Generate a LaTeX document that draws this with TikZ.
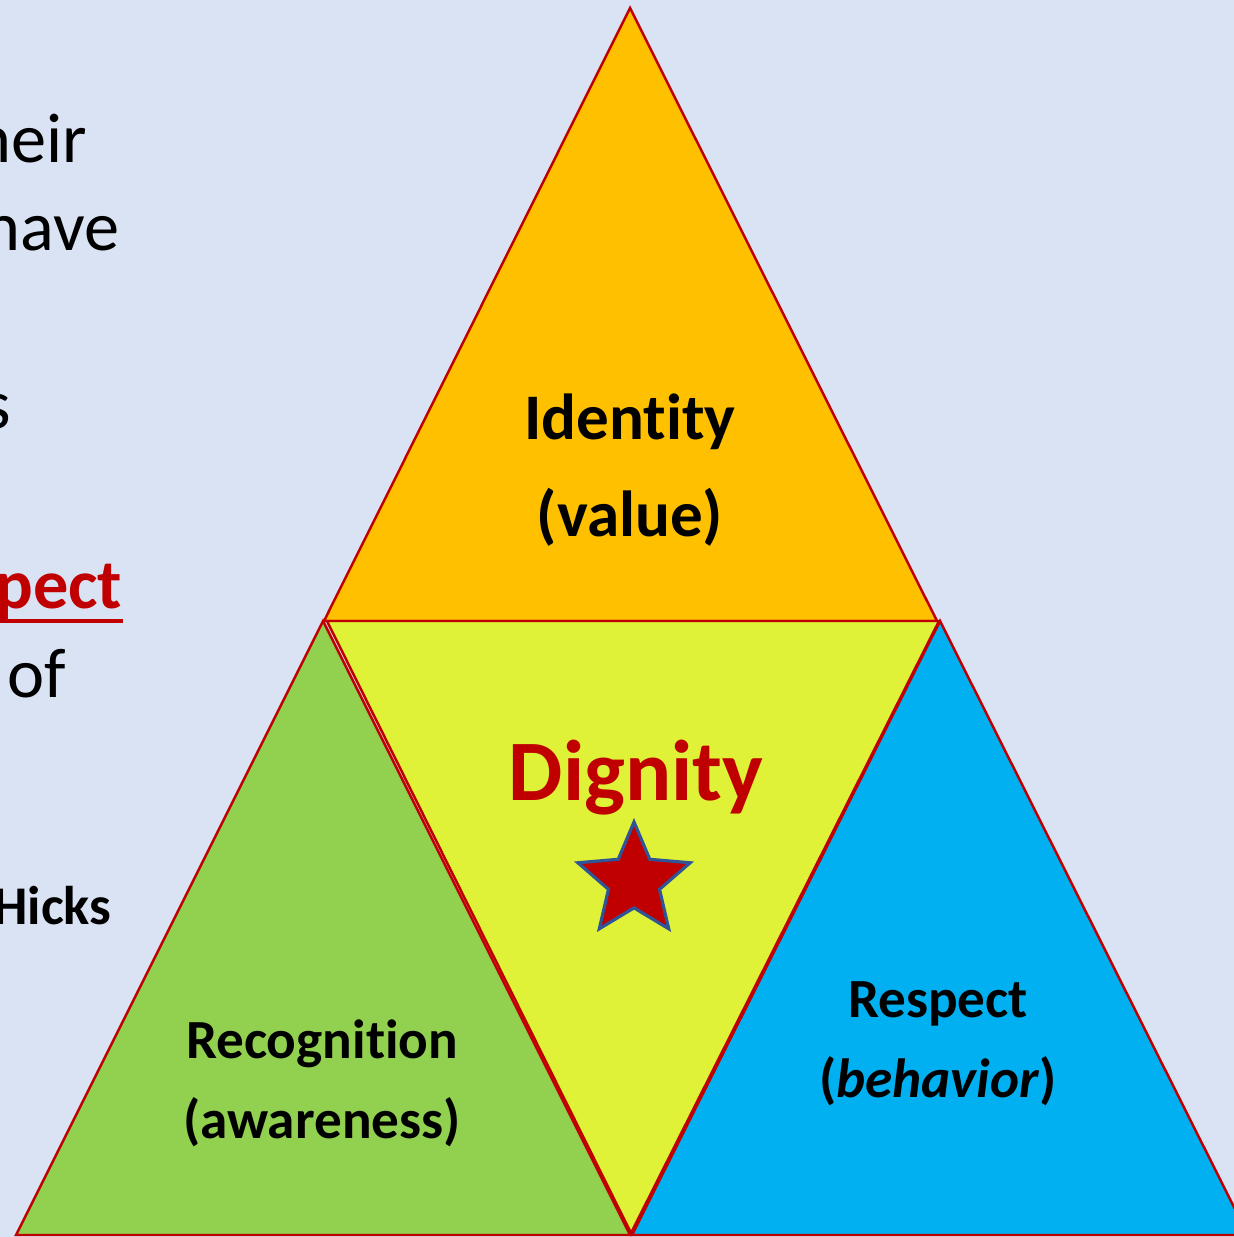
\documentclass[tikz,border=0pt]{standalone}
\usepackage{fontspec}
\setmainfont{Carlito}[Ligatures=NoCommon]
\usetikzlibrary{shapes.geometric}
\definecolor{slidebg}{HTML}{DAE3F3}
\definecolor{idorange}{HTML}{FFC000}
\definecolor{recgreen}{HTML}{92D050}
\definecolor{respblue}{HTML}{00B0F0}
\definecolor{dignyellow}{HTML}{DFF238}
\definecolor{darkred}{HTML}{C00000}
\definecolor{starblue}{HTML}{2F5597}
\tikzset{
  tri/.style={draw=darkred, line width=0.7pt, line join=miter},
  lbl/.style={anchor=base, font=\bfseries\fontsize{15.7}{19}\selectfont},
  slidetxt/.style={anchor=base east, inner sep=0pt, font=\fontsize{20}{24}\selectfont},
}
\begin{document}
\begin{tikzpicture}[x=0.01cm, y=-0.01cm]
  \fill[slidebg] (0,0) rectangle (1234,1237);
  \useasboundingbox (0,0) rectangle (1234,1237);
  \clip (0,0) rectangle (1234,1237);
  % corners of the four triangles
  \coordinate (idtop) at (630,8);
  \coordinate (idleft) at (324,621);
  \coordinate (idright) at (937,621);
  \coordinate (dgleft) at (327,621);
  \coordinate (dgright) at (939,621);
  \coordinate (dgbottom) at (631,1233);
  \coordinate (rctop) at (323,621);
  \coordinate (rcleft) at (16,1235);
  \coordinate (rcright) at (630,1235);
  \coordinate (rstop) at (940,621);
  \coordinate (rsleft) at (632,1235);
  \coordinate (rsright) at (1248,1235);
  \filldraw[tri, fill=idorange] (idtop) -- (idleft) -- (idright) -- cycle;
  \filldraw[tri, fill=dignyellow] (dgleft) -- (dgright) -- (dgbottom) -- cycle;
  \filldraw[tri, fill=recgreen] (rctop) -- (rcleft) -- (rcright) -- cycle;
  \filldraw[tri, fill=respblue] (rstop) -- (rsleft) -- (rsright) -- cycle;
  % labels
  \node[lbl, font=\bfseries\fontsize{18.5}{22}\selectfont] (identity) at (630,440) {Identity};
  \node[lbl, font=\bfseries\fontsize{18.5}{22}\selectfont] (value) at (630,536) {(value)};
  \node[lbl, text=darkred, font=\bfseries\fontsize{24.5}{29}\selectfont] (dignity) at (636,800) {Dignity};
  \node[star, star points=5, star point ratio=2.2, minimum size=1.18cm, inner sep=0pt,
        fill=darkred, draw=starblue, line width=0.9pt] (star) at (634,881) {};
  \node[lbl] (recognition) at (322,1058) {Recognition};
  \node[lbl] (awareness) at (322,1138) {(awareness)};
  \node[lbl] (respect) at (938,1017) {Respect};
  \node[lbl] (behavior) at (938,1097) {(\textit{behavior})};
  % slide text cut off at the left
  \node[slidetxt] (line1) at (88,163) {their};
  \node[slidetxt] (line2) at (120,251) {have};
  \node[slidetxt] (line3) at (12,429) {s};
  \node[slidetxt, text=darkred, font=\bfseries\fontsize{20}{24}\selectfont] (line4) at (123,608) {respect};
  \draw[darkred, line width=1.1pt] ([yshift=-3.6pt]line4.base west) -- ([yshift=-3.6pt]line4.base east);
  \node[slidetxt] (line5) at (67,697) {of};
  \node[slidetxt, font=\bfseries\fontsize{15.5}{19}\selectfont] (hicks) at (112,924) {Hicks};
\end{tikzpicture}
\end{document}
